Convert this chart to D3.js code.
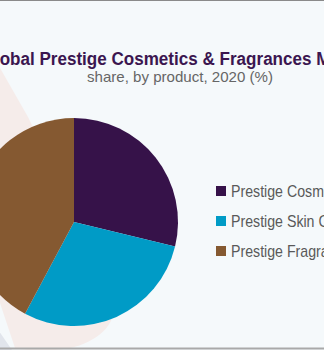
<!DOCTYPE html>
<html>
<head>
<meta charset="utf-8">
<script src="https://cdn.jsdelivr.net/npm/d3@7"></script>
<style>
  html, body { margin: 0; padding: 0; background: #f5f9fb; }
  svg { display: block; }
</style>
</head>
<body>
<svg id="chart" width="324" height="350"></svg>
<script>
// Market share by product, 2020 (%)
const categories = ["Prestige Cosmetics", "Prestige Skin Care", "Prestige Fragrances"];
const shares = [28.8, 29.0, 42.2];
const colors = ["#361249", "#009bc6", "#855931"];

const titleText = "Global Prestige Cosmetics & Fragrances Market";
const subtitleText = "share, by product, 2020 (%)";

const width = 324, height = 350;
const svg = d3.select("#chart");

// background panel
svg.append("rect").attr("width", width).attr("height", height).attr("fill", "#f5f9fb");

// decorative shapes on the left edge
svg.append("path")
  .attr("d", "M-10,318 L-10,350 L12,350 Z")
  .attr("fill", "#e1e5ec");
svg.append("path")
  .attr("d", "M0,68 L28,117 L112,290 C122,318 104,340 70,348 C48,352 28,351 15,348 L0,303 Z")
  .attr("fill", "#f5ecea");

// frame lines
svg.append("line").attr("x1", 0).attr("x2", width).attr("y1", 0.5).attr("y2", 0.5)
  .attr("stroke", "#8a8a8a").attr("stroke-width", 1);
svg.append("line").attr("x1", 0).attr("x2", width).attr("y1", 348.5).attr("y2", 348.5)
  .attr("stroke", "#a9a9a9").attr("stroke-width", 2);

// title: fit so that "Cosmetics" through "Fragrances" spans the given range
const title = svg.append("text")
  .attr("x", 0).attr("y", 65)
  .attr("font-family", "'Liberation Sans', Arial, sans-serif")
  .attr("font-weight", "bold")
  .attr("font-size", 18)
  .attr("fill", "#3b1650")
  .text(titleText);
{
  const node = title.node();
  const i1 = titleText.indexOf("Cosmetics");
  const i2 = titleText.indexOf("Fragrances") + "Fragrances".length;
  const a = node.getSubStringLength(0, i1);
  const b = node.getSubStringLength(0, i2);
  const L = node.getComputedTextLength();
  const k = (311.5 - 111.5) / (b - a);
  title.attr("x", 111.5 - a * k)
    .attr("textLength", L * k)
    .attr("lengthAdjust", "spacingAndGlyphs");
}

svg.append("text")
  .attr("x", 180).attr("y", 82)
  .attr("text-anchor", "middle")
  .attr("font-family", "'Liberation Sans', Arial, sans-serif")
  .attr("font-size", 14.5)
  .attr("textLength", 186)
  .attr("lengthAdjust", "spacingAndGlyphs")
  .attr("fill", "#666666")
  .text(subtitleText);

// pie
const cx = 74, cy = 222, radius = 104;
const pie = d3.pie().sort(null).value(d => d)(shares);
const arc = d3.arc().innerRadius(0).outerRadius(radius);

svg.append("g")
  .attr("transform", `translate(${cx},${cy})`)
  .selectAll("path")
  .data(pie)
  .join("path")
  .attr("d", arc)
  .attr("fill", (d, i) => colors[i]);

// legend (labels set in a condensed width)
const legend = svg.append("g").attr("transform", "translate(216,186)");
const rows = legend.selectAll("g")
  .data(categories)
  .join("g")
  .attr("transform", (d, i) => `translate(0,${i * 30})`);
rows.append("rect")
  .attr("width", 10).attr("height", 10)
  .attr("fill", (d, i) => colors[i]);
const labels = rows.append("text")
  .attr("font-family", "'Liberation Sans', Arial, sans-serif")
  .attr("font-size", 16)
  .attr("fill", "#595959")
  .text(d => d);
const kx = 93 / labels.node().getSubStringLength(0, 13);
labels.attr("transform", `translate(15,10.7) scale(${kx},1)`);
</script>
</body>
</html>
